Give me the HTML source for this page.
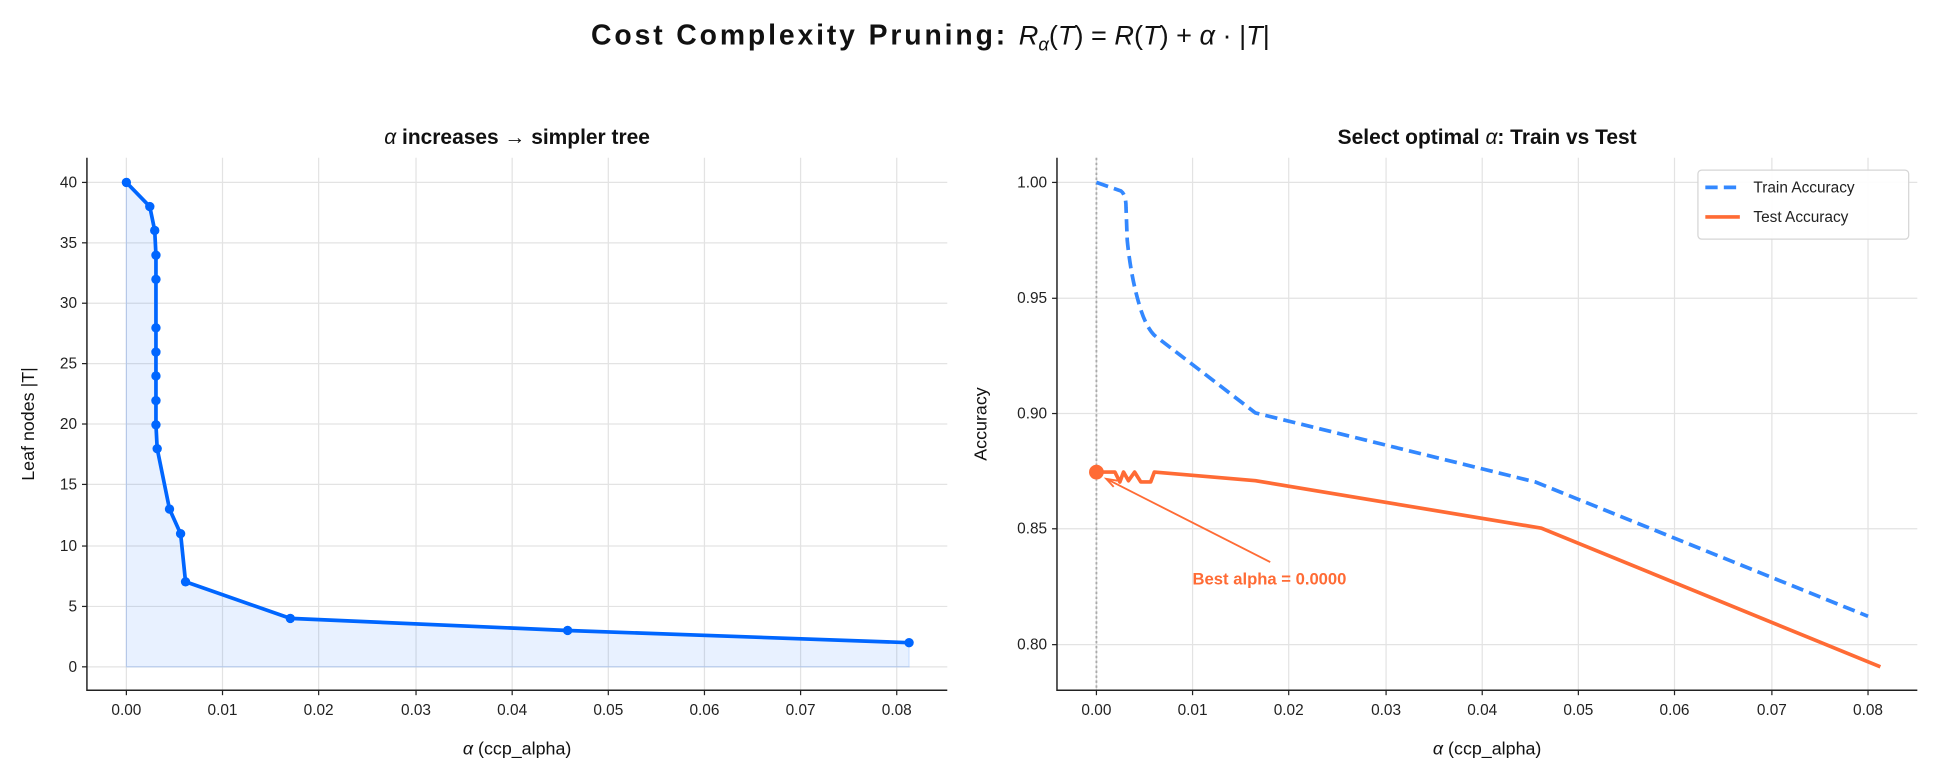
<!DOCTYPE html>
<html><head><meta charset="utf-8"><style>
html,body{margin:0;padding:0;background:#fff;}
svg{display:block;font-family:"Liberation Sans","Noto Sans CJK KR",sans-serif;}
</style></head><body>
<svg width="1934" height="779" viewBox="0 0 1568 632" xmlns="http://www.w3.org/2000/svg">
<rect width="1568" height="632" fill="#fff"/>
<!-- Title -->
<text x="479" y="36" font-size="23" font-weight="bold" fill="#111" textLength="336" lengthAdjust="spacing">Cost Complexity Pruning:</text>
<text x="826" y="36" font-size="22" font-style="italic" fill="#111">R<tspan font-size="15" dy="5">α</tspan><tspan dy="-5" font-style="normal">(</tspan>T<tspan font-style="normal">) = </tspan>R<tspan font-style="normal">(</tspan>T<tspan font-style="normal">) + </tspan>α<tspan font-style="normal"> · |</tspan>T<tspan font-style="normal">|</tspan></text>

<!-- LEFT PLOT -->
<text x="419" y="117" font-size="17" font-weight="bold" text-anchor="middle" fill="#111"><tspan font-style="italic" font-weight="normal">α</tspan> increases → simpler tree</text>
<g stroke="#e3e3e3" stroke-width="1">
<line x1="70" x2="768" y1="148" y2="148"/><line x1="70" x2="768" y1="197" y2="197"/><line x1="70" x2="768" y1="246" y2="246"/><line x1="70" x2="768" y1="295" y2="295"/><line x1="70" x2="768" y1="344" y2="344"/><line x1="70" x2="768" y1="393" y2="393"/><line x1="70" x2="768" y1="443" y2="443"/><line x1="70" x2="768" y1="492" y2="492"/><line x1="70" x2="768" y1="541" y2="541"/>
<line x1="102" x2="102" y1="128" y2="560"/><line x1="180" x2="180" y1="128" y2="560"/><line x1="258" x2="258" y1="128" y2="560"/><line x1="337" x2="337" y1="128" y2="560"/><line x1="415" x2="415" y1="128" y2="560"/><line x1="493" x2="493" y1="128" y2="560"/><line x1="571" x2="571" y1="128" y2="560"/><line x1="649" x2="649" y1="128" y2="560"/><line x1="727" x2="727" y1="128" y2="560"/>
</g>
<polygon points="102,148 121,167.6 125,187 126,207 126,226.6 126,266 126,285.6 126,305 126,325 126,344.6 127,364 137,413 146,433 150,472 235,501.7 460,511.5 737,521.4 737,541 102,541" fill="#0066ff" fill-opacity="0.09" stroke="#0066ff" stroke-opacity="0.15"/>
<polyline points="102,148 121,167.6 125,187 126,207 126,226.6 126,266 126,285.6 126,305 126,325 126,344.6 127,364 137,413 146,433 150,472 235,501.7 460,511.5 737,521.4" fill="none" stroke="#0066ff" stroke-width="3" stroke-linejoin="round"/>
<g fill="#0066ff">
<circle cx="102" cy="148" r="3.8"/><circle cx="121" cy="167.6" r="3.8"/><circle cx="125" cy="187" r="3.8"/><circle cx="126" cy="207" r="3.8"/><circle cx="126" cy="226.6" r="3.8"/><circle cx="126" cy="266" r="3.8"/><circle cx="126" cy="285.6" r="3.8"/><circle cx="126" cy="305" r="3.8"/><circle cx="126" cy="325" r="3.8"/><circle cx="126" cy="344.6" r="3.8"/><circle cx="127" cy="364" r="3.8"/><circle cx="137" cy="413" r="3.8"/><circle cx="146" cy="433" r="3.8"/><circle cx="150" cy="472" r="3.8"/><circle cx="235" cy="501.7" r="3.8"/><circle cx="460" cy="511.5" r="3.8"/><circle cx="737" cy="521.4" r="3.8"/>
</g>
<path d="M70 128 V560 H768" fill="none" stroke="#222" stroke-width="1.2"/>
<g stroke="#222"><line x1="66" x2="70" y1="148" y2="148"/><line x1="66" x2="70" y1="197" y2="197"/><line x1="66" x2="70" y1="246" y2="246"/><line x1="66" x2="70" y1="295" y2="295"/><line x1="66" x2="70" y1="344" y2="344"/><line x1="66" x2="70" y1="393" y2="393"/><line x1="66" x2="70" y1="443" y2="443"/><line x1="66" x2="70" y1="492" y2="492"/><line x1="66" x2="70" y1="541" y2="541"/>
<line y1="560" y2="564" x1="102" x2="102"/><line y1="560" y2="564" x1="180" x2="180"/><line y1="560" y2="564" x1="258" x2="258"/><line y1="560" y2="564" x1="337" x2="337"/><line y1="560" y2="564" x1="415" x2="415"/><line y1="560" y2="564" x1="493" x2="493"/><line y1="560" y2="564" x1="571" x2="571"/><line y1="560" y2="564" x1="649" x2="649"/><line y1="560" y2="564" x1="727" x2="727"/></g>
<g font-size="12.5" fill="#222" text-anchor="end">
<text x="62" y="152">40</text><text x="62" y="201">35</text><text x="62" y="250">30</text><text x="62" y="299">25</text><text x="62" y="348">20</text><text x="62" y="397">15</text><text x="62" y="447">10</text><text x="62" y="496">5</text><text x="62" y="545">0</text></g>
<g font-size="12.5" fill="#222" text-anchor="middle">
<text x="102" y="580">0.00</text><text x="180" y="580">0.01</text><text x="258" y="580">0.02</text><text x="337" y="580">0.03</text><text x="415" y="580">0.04</text><text x="493" y="580">0.05</text><text x="571" y="580">0.06</text><text x="649" y="580">0.07</text><text x="727" y="580">0.08</text></g>
<text x="419" y="612" font-size="14.5" text-anchor="middle" fill="#111"><tspan font-style="italic">α</tspan> (ccp_alpha)</text>
<text transform="translate(27,344) rotate(-90)" font-size="14.5" text-anchor="middle" fill="#111">Leaf nodes  |T|</text>

<!-- RIGHT PLOT -->
<text x="1206" y="117" font-size="17" font-weight="bold" text-anchor="middle" fill="#111">Select optimal <tspan font-style="italic" font-weight="normal">α</tspan>: Train vs Test</text>
<g stroke="#e3e3e3" stroke-width="1">
<line x1="857" x2="1555" y1="148" y2="148"/><line x1="857" x2="1555" y1="242" y2="242"/><line x1="857" x2="1555" y1="335.5" y2="335.5"/><line x1="857" x2="1555" y1="429" y2="429"/><line x1="857" x2="1555" y1="523" y2="523"/>
<line x1="889" x2="889" y1="128" y2="560"/><line x1="967" x2="967" y1="128" y2="560"/><line x1="1045" x2="1045" y1="128" y2="560"/><line x1="1124" x2="1124" y1="128" y2="560"/><line x1="1202" x2="1202" y1="128" y2="560"/><line x1="1280" x2="1280" y1="128" y2="560"/><line x1="1358" x2="1358" y1="128" y2="560"/><line x1="1437" x2="1437" y1="128" y2="560"/><line x1="1515" x2="1515" y1="128" y2="560"/>
</g>
<line x1="889" x2="889" y1="128" y2="560" stroke="#aaa" stroke-width="1.5" stroke-dasharray="2,2"/>
<path d="M889 148 L909 155 Q913 158 913 168 L914 195 Q917 225 924 248 Q929 265 936 272 L1018 335 L1245 391 L1515 500" fill="none" stroke="#3388ff" stroke-width="3" stroke-dasharray="10,5"/>
<polyline points="889,383 904,383 908,391 911,383 915,390 920,383 925,391 933,391 936,383 1018,390 1250,428.5 1525,541" fill="none" stroke="#ff6b35" stroke-width="3" stroke-linejoin="round"/>
<circle cx="889" cy="383" r="6" fill="#ff6b35"/>
<line x1="1030" y1="456" x2="898" y2="389" stroke="#ff6b35" stroke-width="1.5"/>
<polyline points="906,390 897,388.5 903,395" fill="none" stroke="#ff6b35" stroke-width="1.5"/>
<text x="967" y="474" font-size="13.5" font-weight="bold" fill="#ff6b35">Best alpha = 0.0000</text>
<path d="M857 128 V560 H1555" fill="none" stroke="#222" stroke-width="1.2"/>
<g stroke="#222"><line x1="853" x2="857" y1="148" y2="148"/><line x1="853" x2="857" y1="242" y2="242"/><line x1="853" x2="857" y1="335.5" y2="335.5"/><line x1="853" x2="857" y1="429" y2="429"/><line x1="853" x2="857" y1="523" y2="523"/>
<line y1="560" y2="564" x1="889" x2="889"/><line y1="560" y2="564" x1="967" x2="967"/><line y1="560" y2="564" x1="1045" x2="1045"/><line y1="560" y2="564" x1="1124" x2="1124"/><line y1="560" y2="564" x1="1202" x2="1202"/><line y1="560" y2="564" x1="1280" x2="1280"/><line y1="560" y2="564" x1="1358" x2="1358"/><line y1="560" y2="564" x1="1437" x2="1437"/><line y1="560" y2="564" x1="1515" x2="1515"/></g>
<g font-size="12.5" fill="#222" text-anchor="end">
<text x="849" y="152">1.00</text><text x="849" y="246">0.95</text><text x="849" y="339.5">0.90</text><text x="849" y="433">0.85</text><text x="849" y="527">0.80</text></g>
<g font-size="12.5" fill="#222" text-anchor="middle">
<text x="889" y="580">0.00</text><text x="967" y="580">0.01</text><text x="1045" y="580">0.02</text><text x="1124" y="580">0.03</text><text x="1202" y="580">0.04</text><text x="1280" y="580">0.05</text><text x="1358" y="580">0.06</text><text x="1437" y="580">0.07</text><text x="1515" y="580">0.08</text></g>
<text x="1206" y="612" font-size="14.5" text-anchor="middle" fill="#111"><tspan font-style="italic">α</tspan> (ccp_alpha)</text>
<text transform="translate(800,344) rotate(-90)" font-size="14.5" text-anchor="middle" fill="#111">Accuracy</text>
<!-- legend -->
<rect x="1377" y="138" width="171" height="56" rx="3" fill="#fff" fill-opacity="0.9" stroke="#d5d5d5"/>
<line x1="1383" x2="1411" y1="152" y2="152" stroke="#3388ff" stroke-width="3" stroke-dasharray="10,5"/>
<text x="1422" y="156" font-size="12.5" fill="#222">Train Accuracy</text>
<line x1="1383" x2="1411" y1="176" y2="176" stroke="#ff6b35" stroke-width="3"/>
<text x="1422" y="180" font-size="12.5" fill="#222">Test Accuracy</text>
</svg>
</body></html>
